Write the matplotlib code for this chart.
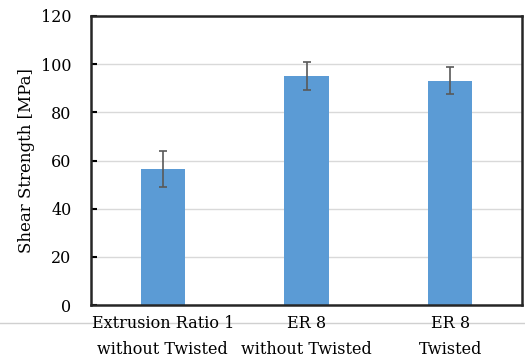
import matplotlib.pyplot as plt
from matplotlib.lines import Line2D

labels = ["Extrusion Ratio 1\nwithout Twisted", "ER 8\nwithout Twisted", "ER 8\nTwisted"]
strength = [56.5, 95.2, 93.1]
err = [7.4, 5.8, 5.6]

plt.rcParams['font.family'] = ['DejaVu Serif']

fig = plt.figure(figsize=(5.25, 3.62), dpi=100)
ax = fig.add_axes([91/525, 1 - 305/362, 431/525, 289/362])

x = range(len(labels))
ax.bar(x, strength, width=0.31, color='#5b9bd5', zorder=2)
ax.errorbar(x, strength, yerr=err, fmt='none', ecolor='#595959',
            elinewidth=1.2, capsize=3, capthick=1.2, zorder=3)

ax.set_xlim(-0.5, 2.5)
ax.set_ylim(0, 120)
ax.set_yticks(range(0, 121, 20))
ax.yaxis.grid(True, color='#d9d9d9', linewidth=1, zorder=0)
ax.set_xticks(list(x))
ax.set_xticklabels(labels, fontsize=11.5, linespacing=1.75)
ax.tick_params(axis='x', length=0, pad=7)
ax.tick_params(axis='y', direction='in', length=4, width=1.5, labelsize=11.5, pad=14)
for s in ax.spines.values():
    s.set_linewidth(1.8)
    s.set_color('#262626')
ax.set_ylabel("Shear Strength [MPa]", fontsize=12, labelpad=4)

# thin separator behind the category labels
fig.add_artist(Line2D([0, 1], [1 - 323/362, 1 - 323/362], color='#d0d0d0',
                      linewidth=1, transform=fig.transFigure, zorder=0))

fig.savefig("out.png", dpi=100)
